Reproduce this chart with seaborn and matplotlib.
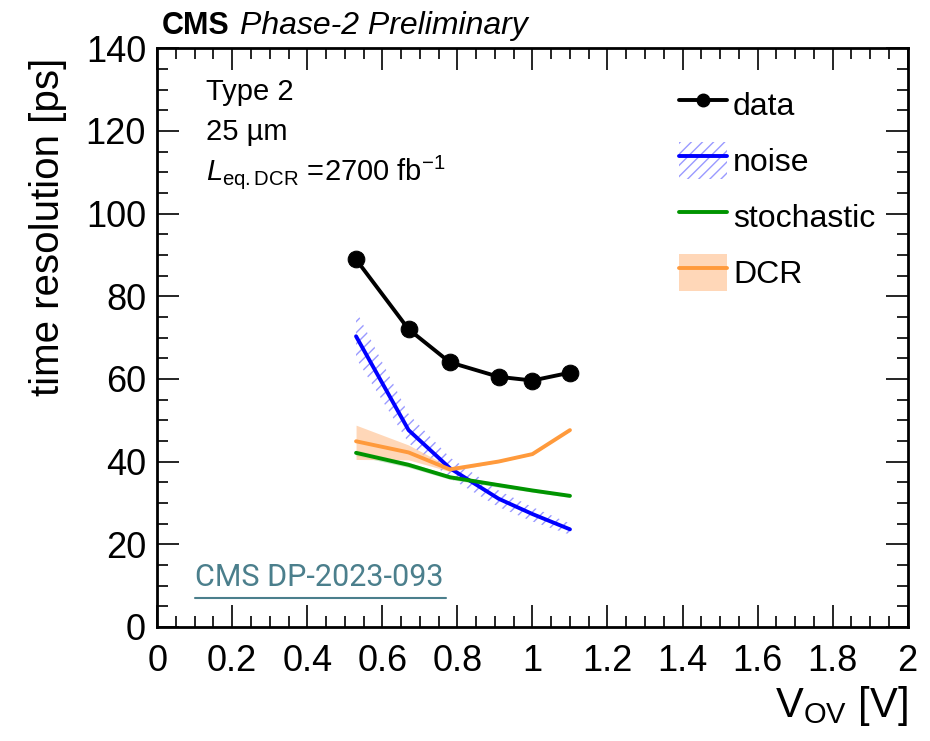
import numpy as np
import pandas as pd
import matplotlib
matplotlib.use("Agg")
import matplotlib.pyplot as plt
import seaborn as sns
from matplotlib.lines import Line2D
from matplotlib.patches import Patch
from matplotlib.ticker import MultipleLocator

# values
vov = [0.53, 0.67, 0.78, 0.91, 1.00, 1.10]
data = [88.9, 72.0, 64.0, 60.5, 59.6, 61.5]
noise = [70.3, 47.6, 38.4, 31.0, 27.3, 23.6]
noise_lo = [65.0, 44.5, 36.0, 29.0, 25.5, 22.3]
noise_hi = [76.5, 51.5, 41.0, 33.0, 29.0, 25.0]
stoch = [42.1, 39.2, 36.2, 34.3, 33.0, 31.7]
stoch_lo = [41.4, 38.6, 35.7, 33.8, 32.6, 31.3]
stoch_hi = [42.8, 39.8, 36.7, 34.8, 33.4, 32.1]
dcr = [44.9, 42.2, 38.1, 40.0, 41.8, 47.6]
dcr_lo = [40.5, 40.4, 37.6, 39.8, 41.6, 47.4]
dcr_hi = [48.8, 44.0, 38.7, 40.2, 42.0, 47.8]

df = pd.DataFrame({"vov": vov, "data": data, "noise": noise, "stoch": stoch, "dcr": dcr})

sns.set_style("ticks")
plt.rcParams["font.family"] = ["Liberation Sans", "DejaVu Sans"]
plt.rcParams["mathtext.fontset"] = "custom"
plt.rcParams["mathtext.rm"] = "Liberation Sans"
plt.rcParams["mathtext.it"] = "Liberation Sans:italic"
plt.rcParams["text.color"] = "black"
plt.rcParams["axes.labelcolor"] = "black"
plt.rcParams["xtick.color"] = "black"
plt.rcParams["ytick.color"] = "black"
plt.rcParams["axes.edgecolor"] = "black"

blue = "#0000ff"
green = "#009400"
orange = "#ff9a3c"

fig = plt.figure(figsize=(9.3, 7.41), dpi=100)
ax = fig.add_axes([0.169, 0.154, 0.807, 0.781])

# bands
ax.fill_between(vov, noise_lo, noise_hi, facecolor="none", edgecolor="#9a9aff",
                hatch="///", linewidth=0)
ax.fill_between(vov, stoch_lo, stoch_hi, color="#9fd49f", alpha=0.6, linewidth=0)
ax.fill_between(vov, dcr_lo, dcr_hi, color="#ffc79a", alpha=0.7, linewidth=0)

sns.lineplot(data=df, x="vov", y="noise", ax=ax, color=blue, lw=2.8)
sns.lineplot(data=df, x="vov", y="stoch", ax=ax, color=green, lw=2.8)
sns.lineplot(data=df, x="vov", y="dcr", ax=ax, color=orange, lw=2.8)
sns.lineplot(data=df, x="vov", y="data", ax=ax, color="black", lw=2.8,
             marker="o", markersize=12, markeredgecolor="black")

ax.set_xlim(0, 2)
ax.set_ylim(0, 140)
ax.xaxis.set_minor_locator(MultipleLocator(0.05))
ax.yaxis.set_major_locator(MultipleLocator(20))
ax.yaxis.set_minor_locator(MultipleLocator(5))
ax.set_xticks(np.arange(0, 2.01, 0.2))
ax.set_xticklabels(["0", "0.2", "0.4", "0.6", "0.8", "1", "1.2", "1.4", "1.6", "1.8", "2"])
ax.tick_params(which="both", direction="in", top=True, right=True, labelsize=26)
ax.tick_params(axis="x", pad=12)
ax.tick_params(axis="y", pad=8)
ax.tick_params(which="major", length=16, width=1.2)
ax.tick_params(which="minor", length=8, width=1.2)
for s in ax.spines.values():
    s.set_linewidth(2)

ax.set_xlabel(r"V$_{\mathrm{OV}}$ [V]", fontsize=30, loc="right")
ax.set_ylabel("time resolution [ps]", fontsize=29, loc="top")
ax.yaxis.set_label_coords(-0.12, 0.983)

ax.text(0.006, 1.012, "CMS", transform=ax.transAxes, fontsize=22, fontweight="bold", va="bottom")
ax.text(0.11, 1.012, "Phase-2 Preliminary", transform=ax.transAxes, fontsize=23,
        style="italic", va="bottom")

ax.text(0.065, 0.925, "Type 2", transform=ax.transAxes, fontsize=21, va="center")
ax.text(0.065, 0.855, "25 \u00b5m", transform=ax.transAxes, fontsize=21, va="center")
ax.text(0.065, 0.785, r"$\it{L}_{\mathrm{eq.DCR}}$ =2700 fb$^{-1}$", transform=ax.transAxes,
        fontsize=21, va="center")

ax.text(0.05, 0.085, "CMS DP-2023-093", transform=ax.transAxes, fontsize=22,
        color="#4b7f8c", family=["Roboto", "DejaVu Sans"], va="center")
ax.plot([0.05, 0.385], [0.05, 0.05], transform=ax.transAxes, color="#4b7f8c", lw=1.5)

handles = [
    Line2D([], [], color="black", lw=2.8, marker="o", markersize=9),
    (Patch(facecolor="none", edgecolor="#9a9aff", hatch="///", linewidth=0),
     Line2D([], [], color=blue, lw=2.8)),
    Line2D([], [], color=green, lw=2.8),
    (Patch(facecolor="#ffc79a", alpha=0.7, linewidth=0),
     Line2D([], [], color=orange, lw=2.8)),
]
labels = ["data", "noise", "stochastic", "DCR"]
ax.legend(handles, labels, loc="upper right", bbox_to_anchor=(0.995, 0.985), frameon=False,
          fontsize=23, handlelength=1.5, handleheight=1.4, labelspacing=0.6,
          handletextpad=0.2)

fig.savefig("out.png", dpi=100)
